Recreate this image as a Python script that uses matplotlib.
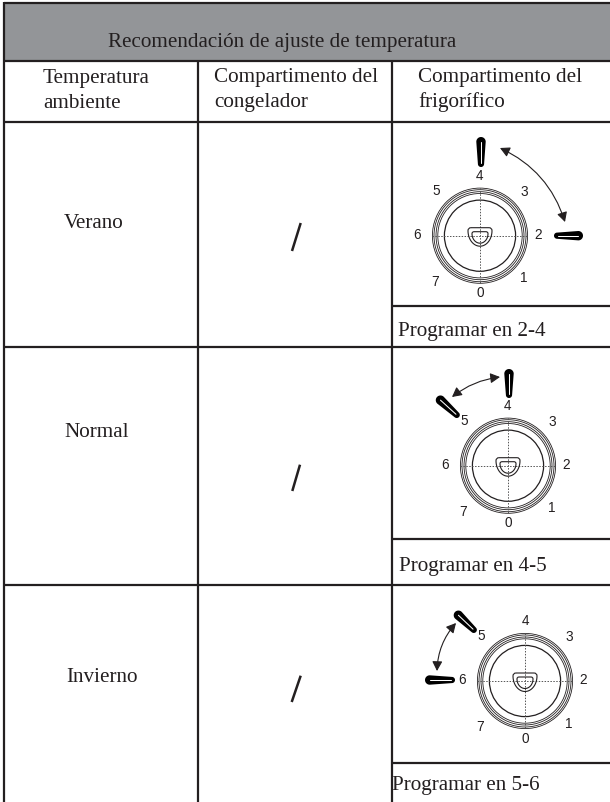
import numpy as np
import matplotlib
matplotlib.use("Agg")
import matplotlib.pyplot as plt
from matplotlib.patches import Rectangle, Circle, Polygon, FancyArrowPatch, PathPatch
from matplotlib.path import Path

# ---- content ----
title = "Recomendación de ajuste de temperatura"
col_heads = [["Temperatura", "ambiente"], ["Compartimento del", "congelador"], ["Compartimento del", "frigorífico"]]
seasons = ["Verano", "Normal", "Invierno"]
freezer = ["/", "/", "/"]
settings = ["Programar en 2-4", "Programar en 4-5", "Programar en 5-6"]
dial_numbers = ["0", "1", "2", "3", "4", "5", "6", "7"]

INK = "#231f20"
GRAY = "#939598"
SERIF = "Liberation Serif"
SANS = "Liberation Sans"

fig = plt.figure(figsize=(6.10, 8.03), dpi=100)
ax = fig.add_axes([0, 0, 1, 1])
ax.set_xlim(0, 610)
ax.set_ylim(803, 0)
ax.axis("off")

# ---- table ----
LX, C1, C2, RX = 4, 197.7, 392, 610
ax.add_patch(Rectangle((LX, 4), RX - LX, 58, fc=GRAY, ec="none", zorder=0))
LW = 1.6
def hl(y, x0=LX, x1=RX):
    ax.plot([x0, x1], [y, y], color=INK, lw=LW, solid_capstyle="butt", zorder=3)
def vl(x, y0, y1):
    ax.plot([x, x], [y0, y1], color=INK, lw=LW, solid_capstyle="butt", zorder=3)

for y in (4, 62, 122.7, 347.7, 586):
    hl(y)
for y in (306.7, 540, 764):
    hl(y, C2)
vl(LX, 3, 803)
vl(C1, 62, 803)
vl(C2, 62, 803)

# ---- text ----
FS = 15.2
def txt(x, y, s, ha="left"):
    ax.text(x, y, s, family=SERIF, fontsize=FS, color=INK, ha=ha, va="baseline")

txt(282, 46.7, title, "center")
head_x = [43, 214, 418]
head_y = [(82.7, 108.3), (81.7, 106.7), (81.7, 106.7)]
for x, ys, lines in zip(head_x, head_y, col_heads):
    for y, s in zip(ys, lines):
        txt(x, y, s)

season_xy = [(94, 227.7), (96.7, 436.7), (102, 681.7)]
for (x, y), s in zip(season_xy, seasons):
    txt(x, y, s, "center")

slashes = [((300.7, 224), (292, 252)), ((300, 465.7), (292.3, 492)), ((300.7, 676.7), (291.7, 703))]
for (a, b), s in zip(slashes, freezer):
    ax.plot([a[0], b[0]], [a[1], b[1]], color=INK, lw=1.8, solid_capstyle="butt", gid=s)

set_xy = [(397.7, 335.7), (399, 570.7), (392.5, 790)]
for (x, y), s in zip(set_xy, settings):
    txt(x, y, s)

# ---- dials ----
label_off = {"4": (0, -60.7), "5": (-44, -46), "3": (44.3, -44.7), "6": (-63.3, -1.7),
             "2": (58.3, -1.7), "7": (-45, 45), "1": (43.3, 41.6), "0": (0, 56.7)}
dial_centers = [(480, 236.7), (508, 466.7), (525, 682)]

def d_shape(cx, cy, hw, top, depth, corner=3):
    y0 = cy + top
    verts = [(cx - hw + corner, y0), (cx + hw - corner, y0), (cx + hw, y0), (cx + hw, y0 + corner)]
    codes = [Path.MOVETO, Path.LINETO, Path.CURVE3, Path.CURVE3]
    for a in np.linspace(0, np.pi, 30):
        verts.append((cx + hw * np.cos(a), y0 + corner + (depth - corner) * np.sin(a)))
        codes.append(Path.LINETO)
    verts += [(cx - hw, y0), (cx - hw + corner, y0)]
    codes += [Path.CURVE3, Path.CURVE3]
    return Path(verts, codes)

def draw_dial(cx, cy):
    for r in (47.6, 46.0, 44.0, 42.2):
        ax.add_patch(Circle((cx, cy), r, fc="none", ec=INK, lw=.6, zorder=2))
    ax.add_patch(Circle((cx, cy), 35.6, fc="none", ec=INK, lw=.9, zorder=2))
    ax.plot([cx - 48, cx + 48], [cy, cy], color="#555555", lw=.7, ls=(0, (1.5, 1.5)), zorder=2)
    ax.plot([cx, cx], [cy - 48, cy + 48], color="#555555", lw=.7, ls=(0, (1.5, 1.5)), zorder=2)
    ax.add_patch(PathPatch(d_shape(cx, cy, 12, -8, 18.5), fc="none", ec=INK, lw=.8, zorder=2))
    ax.add_patch(PathPatch(d_shape(cx, cy, 8, -4, 11.5, 2), fc="none", ec=INK, lw=.8, zorder=2))
    for k in dial_numbers:
        dx, dy = label_off[k]
        ax.text(cx + dx, cy + dy, k, family=SANS, fontsize=9.8, color=INK, ha="center", va="center", zorder=4)

for c in dial_centers:
    draw_dial(*c)

def knob(wide, narrow, rw=4.7, rn=3.1):
    p0, p1 = np.array(wide, float), np.array(narrow, float)
    u = (p1 - p0) / np.linalg.norm(p1 - p0)
    n = np.array([-u[1], u[0]])
    c0 = p0 + u * rw
    c1 = p1 - u * rn
    th = np.linspace(np.pi / 2, 3 * np.pi / 2, 20)
    pts = [c0 + rw * (np.cos(t) * u + np.sin(t) * n) for t in th]
    pts += [c1 + rn * (np.cos(t) * u + np.sin(t) * n) for t in th + np.pi]
    ax.add_patch(Polygon(pts, closed=True, fc="black", ec="none", zorder=4))
    ax.plot([c0[0], c1[0] - u[0]], [c0[1], c1[1] - u[1]], color="white", lw=.75,
            solid_capstyle="round", zorder=5)

knobs = [((481, 138), (481, 168)), ((583, 236.7), (554, 236.7)),
         ((437, 398), (459, 418)), ((509, 370), (509, 399)),
         ((455, 613), (476, 633)), ((425, 681), (455, 681))]
for w, n in knobs:
    knob(w, n)

arrows = [((500, 149), (565, 223), -0.22), ((500, 378), (452, 398), 0.14), ((456, 624), (437, 672), 0.18)]
for a, b, rad in arrows:
    ax.add_patch(FancyArrowPatch(a, b, connectionstyle=f"arc3,rad={rad}", arrowstyle="<|-|>,head_length=3.6,head_width=1.9",
                                 mutation_scale=1.6, fc=INK, ec=INK, lw=.8, shrinkA=0, shrinkB=0, zorder=4))

fig.savefig("out.png", dpi=100, facecolor="white")
